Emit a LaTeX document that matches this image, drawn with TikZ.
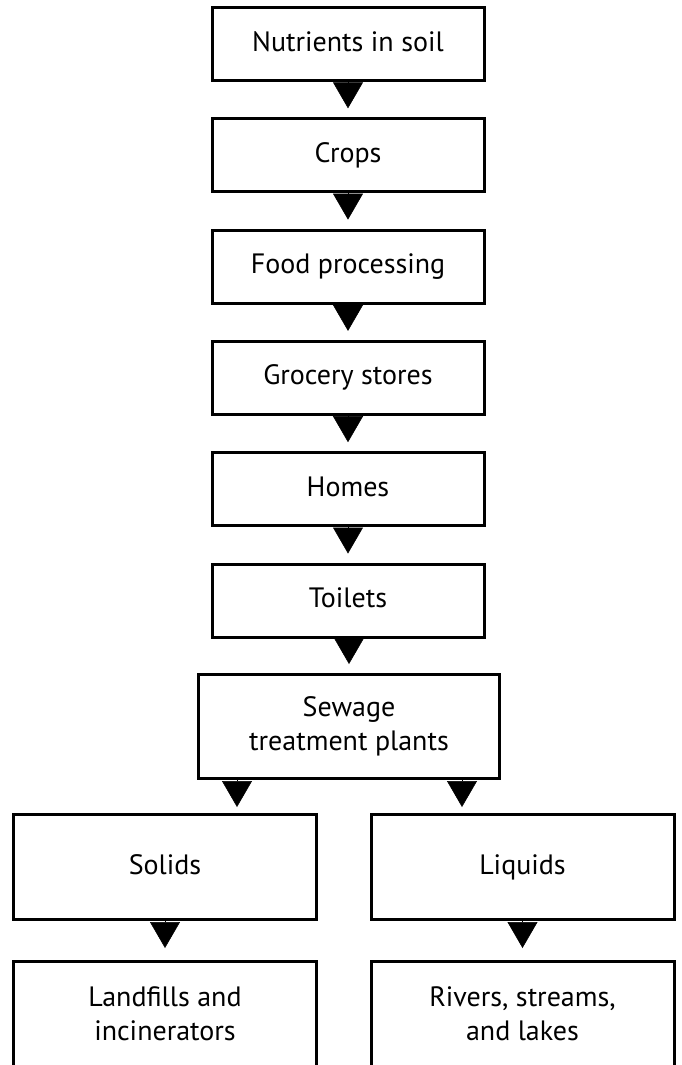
\documentclass[tikz,border=0pt]{standalone}
\usepackage{fontspec}
\setmainfont{PT Sans}
\usetikzlibrary{arrows.meta}

\begin{document}
\begin{tikzpicture}[x=0.75pt, y=-0.75pt, every node/.style={draw, line width=2.25pt, align=center, font=\fontsize{21}{25.5}\selectfont}]
	\tikzset{line/.style={text height=15pt, text depth=4.5pt}}
	\tikzset{box/.style={line, minimum width=204pt, minimum height=54.75pt}}
	\tikzset{bigbox/.style={minimum width=227.25pt, minimum height=78.75pt}}
	\tikzset{arr/.style={-{Triangle[length=19.5pt,width=22.5pt]}, line width=0.4pt, shorten >=6.75pt}}
	\useasboundingbox (0,0) rectangle (682,1065);
	\clip (0,0) rectangle (682,1065);
	\node[box] (n1) at (348,44) {Nutrients in soil};
	\node[box] (n2) at (348,155.3) {Crops};
	\node[box] (n3) at (348,266.6) {Food processing};
	\node[box] (n4) at (348,377.9) {Grocery stores};
	\node[box] (n5) at (348,489.2) {Homes};
	\node[box] (n6) at (348,600.5) {Toilets};
	\node[bigbox, minimum width=225.75pt, minimum height=78pt] (n7) at (349,726.5) {Sewage\\treatment plants};
	\node[bigbox, line] (n8) at (165,867) {Solids};
	\node[bigbox, line] (n9) at (522.5,867) {Liquids};
	\node[bigbox] (n10) at (165,1014) {Landfills and\\incinerators};
	\node[bigbox] (n11) at (522.5,1014) {Rivers, streams,\\and lakes};
	\draw[arr] (n1) -- (n2);
	\draw[arr] (n2) -- (n3);
	\draw[arr] (n3) -- (n4);
	\draw[arr] (n4) -- (n5);
	\draw[arr] (n5) -- (n6);
	\draw[arr] ([xshift=0.75pt]n6.south) -- ([xshift=0.75pt]n6.south |- n7.north);
	\draw[arr, shorten >=4.5pt] ([xshift=-84pt]n7.south) -- ([xshift=-84pt]n7.south |- n8.north);
	\draw[arr, shorten >=4.5pt] ([xshift=84.75pt]n7.south) -- ([xshift=84.75pt]n7.south |- n9.north);
	\draw[arr, shorten >=9pt] (n8) -- (n10);
	\draw[arr, shorten >=9pt] (n9) -- (n11);
\end{tikzpicture}
\end{document}
